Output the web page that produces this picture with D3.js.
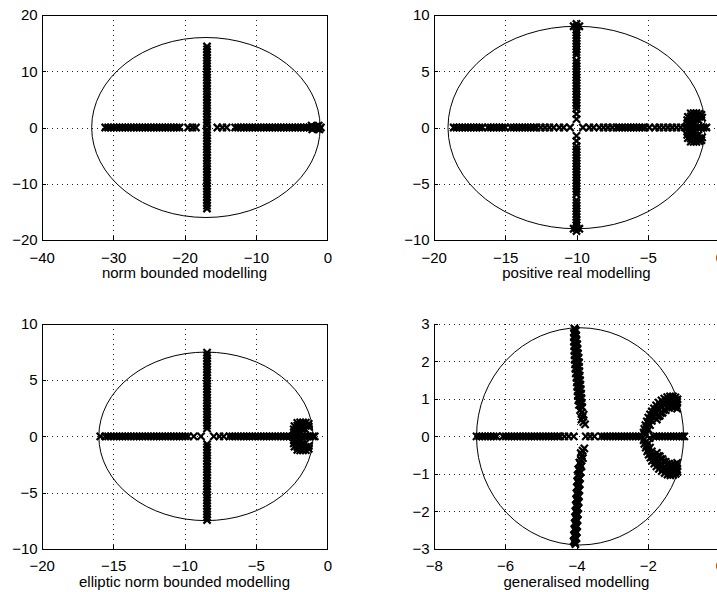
<!DOCTYPE html>
<html>
<head>
<meta charset="utf-8">
<script src="https://cdn.jsdelivr.net/npm/d3@7"></script>
<style>
  html, body { margin: 0; padding: 0; background: #fff; overflow: hidden; }
  svg { display: block; font-family: "Liberation Sans", Arial, Helvetica, sans-serif; }
</style>
</head>
<body>
<div id="chart"></div>
<script>
// ---- data ----

// norm bounded modelling
var nbXTicks = [-40, -30, -20, -10, 0];
var nbYTicks = [-20, -10, 0, 10, 20];
var nbCircle = [-17, 16];               // centre on real axis, radius
var nbRe = [-31.1, -30.7, -30.3, -29.9, -29.5, -29.1, -28.7, -28.3, -27.9, -27.5, -27.1, -26.7, -26.3,
  -25.9, -25.5, -25.1, -24.7, -24.3, -23.9, -23.5, -23.1, -22.7, -22.3, -21.9, -21.5, -21.1, -20.7,
  -19.5, -18.9, -18.4, -15.4, -14.7, -14.1, -12.9, -12.5, -12.1, -11.7, -11.3, -10.9, -10.5, -10.1,
  -9.7, -9.3, -8.9, -8.5, -8.1, -7.7, -7.3, -6.9, -6.5, -6.1, -5.7, -5.3, -4.9, -4.5, -4.1, -3.7,
  -3.3, -2.9, -2.5];
var nbImRe = -16.85;
var nbIm = [14.4, 13.9, 13.4, 12.9, 12.4, 11.9, 11.4, 10.9, 10.4, 9.9, 9.4, 8.9, 8.4, 7.9, 7.4, 6.9,
  6.4, 5.9, 5.4, 4.9, 4.4, 3.9, 3.4, 2.9, 2.4, 1.9, 1.4, 0.9, 0.4, -0.4, -0.9, -1.4, -1.9, -2.4,
  -2.9, -3.4, -3.9, -4.4, -4.9, -5.4, -5.9, -6.4, -6.9, -7.4, -7.9, -8.4, -8.9, -9.4, -9.9, -10.4,
  -10.9, -11.4, -11.9, -12.4, -12.9, -13.4, -13.9, -14.4];
var nbCluster = [[-2.2, 0.35], [-2.1, -0.35], [-1.8, 0], [-1.5, 0.2], [-1.4, -0.2], [-1.2, 0.35],
  [-1.1, -0.35], [-0.9, 0]];

// positive real modelling
var prXTicks = [-20, -15, -10, -5, 0];
var prYTicks = [-10, -5, 0, 5, 10];
var prCircle = [-10, 9];
var prRe = [-18.6, -18.4, -18.2, -18.0, -17.8, -17.6, -17.4, -17.2, -17.0, -16.8, -16.6, -16.2, -16.0,
  -15.8, -15.6, -15.4, -15.2, -15.0, -14.6, -14.4, -14.2, -14.0, -13.8, -13.6, -13.4, -13.2, -13.0,
  -12.8, -12.5, -12.2, -11.9, -11.6, -11.2, -10.9, -10.45, -9.55, -9.1, -8.8, -8.4, -8.1, -7.8, -7.5,
  -7.2, -7.0, -6.8, -6.6, -6.4, -6.2, -6.0, -5.8, -5.6, -5.4, -5.2, -4.9, -4.5, -4.2, -3.9, -3.6,
  -3.3, -3.0, -2.7, -2.4];
var prImRe = -10;
var prIm = [9.2, 8.95, 8.7, 8.45, 8.2, 7.95, 7.7, 7.45, 7.2, 6.95, 6.7, 6.45, 5.95, 5.7, 5.45, 5.2,
  4.95, 4.7, 4.45, 4.2, 3.95, 3.7, 3.45, 3.2, 2.95, 2.7, 2.45, 2.2, 1.95, 1.65, 1.2, 0.75, -0.75,
  -1.2, -1.65, -1.95, -2.2, -2.45, -2.7, -2.95, -3.2, -3.45, -3.7, -3.95, -4.2, -4.45, -4.7, -4.95,
  -5.2, -5.45, -5.7, -5.95, -6.45, -6.7, -6.95, -7.2, -7.45, -7.7, -7.95, -8.2, -8.45, -8.7, -8.95, -9.2];
var prCluster = [[-10.2, 9.0], [-9.8, 9.0], [-10.2, -9.0], [-9.8, -9.0],
  [-2.0, 1.25], [-1.8, 1.28], [-1.6, 1.28], [-1.4, 1.22], [-1.25, 1.12],
  [-2.2, 0.95], [-2.0, 0.98], [-1.8, 1.0], [-1.6, 1.0], [-1.4, 0.95], [-1.2, 0.88],
  [-2.25, 0.65], [-2.05, 0.68], [-1.85, 0.7], [-1.65, 0.7], [-1.45, 0.66],
  [-2.25, 0.35], [-2.0, 0.38], [-1.75, 0.4],
  [-2.3, 0], [-2.1, 0], [-1.9, 0], [-1.7, 0], [-1.5, 0], [-1.3, 0], [-1.1, 0], [-0.9, 0],
  [-2.25, -0.35], [-2.0, -0.38], [-1.75, -0.4],
  [-2.25, -0.65], [-2.05, -0.68], [-1.85, -0.7], [-1.65, -0.7], [-1.45, -0.66],
  [-2.2, -0.95], [-2.0, -0.98], [-1.8, -1.0], [-1.6, -1.0], [-1.4, -0.95], [-1.2, -0.88],
  [-2.0, -1.25], [-1.8, -1.28], [-1.6, -1.28], [-1.4, -1.22], [-1.25, -1.12]];

// elliptic norm bounded modelling
var enXTicks = [-20, -15, -10, -5, 0];
var enYTicks = [-10, -5, 0, 5, 10];
var enCircle = [-8.5, 7.5];
var enRe = [-15.9, -15.55, -15.35, -15.15, -14.95, -14.75, -14.55, -14.35, -14.15, -13.95, -13.75,
  -13.55, -13.35, -13.15, -12.95, -12.75, -12.55, -12.35, -12.15, -11.95, -11.75, -11.55, -11.35,
  -11.15, -10.95, -10.75, -10.55, -10.35, -10.15, -9.95, -9.75, -9.35, -8.85, -7.95, -7.55, -7.25,
  -6.85, -6.65, -6.45, -6.25, -6.05, -5.85, -5.65, -5.45, -5.25, -5.05, -4.85, -4.65, -4.45, -4.25,
  -4.05, -3.85, -3.65, -3.45, -3.25, -3.05, -2.85, -2.65, -2.45];
var enImRe = -8.42;
var enIm = [7.45, 7.2, 6.95, 6.7, 6.45, 6.2, 5.95, 5.7, 5.45, 5.2, 4.95, 4.7, 4.45, 4.2, 3.95, 3.7,
  3.45, 3.2, 2.95, 2.7, 2.45, 2.2, 1.95, 1.7, 1.45, 1.2, 0.95, 0.7, -0.7, -0.95, -1.2, -1.45, -1.7,
  -1.95, -2.2, -2.45, -2.7, -2.95, -3.2, -3.45, -3.7, -3.95, -4.2, -4.45, -4.7, -4.95, -5.2, -5.45,
  -5.7, -5.95, -6.2, -6.45, -6.7, -6.95, -7.2, -7.45];
var enCluster = [[-2.1, 1.2], [-1.9, 1.25], [-1.7, 1.25], [-1.5, 1.22], [-1.3, 1.12],
  [-2.3, 0.92], [-2.1, 0.95], [-1.9, 0.97], [-1.7, 0.97], [-1.5, 0.93], [-1.3, 0.86],
  [-2.35, 0.62], [-2.15, 0.65], [-1.95, 0.67], [-1.75, 0.67], [-1.55, 0.63],
  [-2.35, 0.33], [-2.1, 0.36], [-1.85, 0.38],
  [-2.2, 0], [-2.0, 0], [-1.8, 0], [-1.6, 0], [-1.4, 0], [-1.2, 0], [-1.0, 0], [-0.88, 0],
  [-2.35, -0.33], [-2.1, -0.36], [-1.85, -0.38],
  [-2.35, -0.62], [-2.15, -0.65], [-1.95, -0.67], [-1.75, -0.67], [-1.55, -0.63],
  [-2.3, -0.92], [-2.1, -0.95], [-1.9, -0.97], [-1.7, -0.97], [-1.5, -0.93], [-1.3, -0.86],
  [-2.1, -1.2], [-1.9, -1.25], [-1.7, -1.25], [-1.5, -1.22], [-1.3, -1.12]];

// generalised modelling
var genXTicks = [-8, -6, -4, -2, 0];
var genYTicks = [-3, -2, -1, 0, 1, 2, 3];
var genCircle = [-3.9, 2.9];
var genRe = [-6.80, -6.72, -6.64, -6.56, -6.48, -6.40, -6.32, -6.24, -6.06, -5.98, -5.90, -5.82,
  -5.74, -5.66, -5.58, -5.50, -5.42, -5.34, -5.26, -5.18, -5.10, -5.02, -4.94, -4.86, -4.78, -4.70,
  -4.62, -4.54, -4.46, -4.34, -4.22, -4.08, -3.74, -3.62, -3.50, -3.30, -3.22, -3.14, -3.06, -2.98,
  -2.90, -2.82, -2.74, -2.66, -2.58, -2.50, -2.42, -2.34, -2.26, -2.18, -1.84, -1.76, -1.68, -1.60,
  -1.52, -1.44, -1.36, -1.28, -1.20, -1.12, -1.04, -0.98];
var genBranch = [[-4.06, 2.88], [-4.02, 2.82], [-4.07, 2.76], [-4.01, 2.70], [-4.07, 2.64],
  [-4.00, 2.58], [-4.07, 2.52], [-3.98, 2.46], [-4.06, 2.40], [-3.97, 2.34], [-4.06, 2.28],
  [-3.96, 2.22], [-4.05, 2.16], [-3.94, 2.10], [-4.05, 2.04], [-3.93, 1.98], [-4.04, 1.92],
  [-3.93, 1.86], [-4.03, 1.80], [-3.92, 1.74], [-4.02, 1.68], [-3.91, 1.62], [-4.00, 1.56],
  [-3.90, 1.50], [-3.99, 1.44], [-3.89, 1.38], [-3.98, 1.32], [-3.88, 1.26], [-3.97, 1.20],
  [-3.87, 1.14], [-3.96, 1.08], [-3.86, 1.02], [-3.95, 0.96], [-3.85, 0.90], [-3.93, 0.84],
  [-3.84, 0.78], [-3.90, 0.70], [-3.80, 0.58], [-3.86, 0.45], [-3.76, 0.32],
  [-3.78, -0.32], [-3.88, -0.45], [-3.82, -0.58], [-3.92, -0.70], [-3.86, -0.80], [-3.95, -0.88],
  [-3.88, -0.96], [-3.97, -1.04], [-3.90, -1.12], [-3.98, -1.20], [-3.91, -1.28], [-3.99, -1.36],
  [-3.92, -1.44], [-4.00, -1.52], [-3.93, -1.60], [-4.01, -1.68], [-3.94, -1.76], [-4.02, -1.84],
  [-3.95, -1.92], [-4.03, -2.00], [-3.96, -2.08], [-4.04, -2.16], [-3.97, -2.24], [-4.05, -2.32],
  [-3.98, -2.40], [-4.06, -2.48], [-3.99, -2.56], [-4.07, -2.64], [-4.00, -2.72], [-4.08, -2.80],
  [-4.03, -2.88]];
var genBranchMid = [[-4.04, 2.85], [-4.04, 2.73], [-4.03, 2.61], [-4.02, 2.49], [-4.01, 2.37],
  [-4.01, 2.25], [-3.99, 2.13], [-3.99, 2.01], [-3.98, 1.89], [-3.97, 1.77], [-3.96, 1.65],
  [-3.95, 1.53], [-3.94, 1.41], [-3.93, 1.29], [-3.92, 1.17], [-3.91, 1.05], [-3.90, 0.93],
  [-3.88, 0.81], [-3.85, 0.64], [-3.83, 0.52], [-3.81, 0.38],
  [-3.83, -0.38], [-3.85, -0.52], [-3.87, -0.64], [-3.89, -0.75], [-3.92, -0.92], [-3.93, -1.00],
  [-3.94, -1.16], [-3.95, -1.24], [-3.95, -1.32], [-3.96, -1.48], [-3.97, -1.56], [-3.97, -1.64],
  [-3.98, -1.72], [-3.98, -1.80], [-3.99, -1.88], [-3.99, -1.96], [-4.00, -2.04], [-4.00, -2.12],
  [-4.01, -2.20], [-4.01, -2.28], [-4.02, -2.36], [-4.02, -2.44], [-4.03, -2.52], [-4.03, -2.60],
  [-4.04, -2.68], [-4.04, -2.76], [-4.05, -2.84]];
var genFans = [[-2.05, 0.05], [-1.95, -0.05],
  [-2.12, 0.10], [-2.10, 0.20], [-2.07, 0.30], [-2.03, 0.40], [-1.99, 0.50], [-1.94, 0.59],
  [-1.89, 0.67], [-1.83, 0.75], [-1.77, 0.83], [-1.70, 0.90], [-1.62, 0.96], [-1.54, 1.01],
  [-1.46, 1.05], [-1.38, 1.07], [-1.30, 1.07], [-1.23, 1.04], [-1.17, 0.99],
  [-2.04, 0.25], [-1.99, 0.37], [-1.94, 0.47], [-1.88, 0.57], [-1.81, 0.66], [-1.74, 0.74],
  [-1.66, 0.82], [-1.58, 0.89], [-1.49, 0.95], [-1.40, 0.99], [-1.31, 1.00], [-1.23, 0.97],
  [-1.18, 0.92],
  [-1.98, 0.18], [-1.94, 0.30], [-1.89, 0.41], [-1.83, 0.52], [-1.76, 0.62], [-1.69, 0.70],
  [-1.61, 0.78], [-1.53, 0.85], [-1.44, 0.90], [-1.35, 0.93], [-1.27, 0.93], [-1.20, 0.89],
  [-1.72, 0.53], [-1.64, 0.62], [-1.56, 0.70], [-1.47, 0.77], [-1.38, 0.82], [-1.29, 0.84],
  [-1.21, 0.82],
  [-1.75, 0.45], [-1.67, 0.55], [-1.59, 0.63], [-1.50, 0.70], [-1.41, 0.76], [-1.32, 0.79],
  [-1.24, 0.78], [-1.18, 0.74],
  [-2.12, -0.10], [-2.10, -0.20], [-2.06, -0.30], [-2.02, -0.40], [-1.98, -0.49], [-1.93, -0.57],
  [-1.88, -0.65], [-1.82, -0.73], [-1.76, -0.80], [-1.69, -0.87], [-1.61, -0.93], [-1.53, -0.98],
  [-1.45, -1.02], [-1.37, -1.04], [-1.29, -1.03], [-1.22, -1.00], [-1.17, -0.95],
  [-2.04, -0.25], [-1.99, -0.36], [-1.94, -0.46], [-1.88, -0.55], [-1.81, -0.64], [-1.74, -0.71],
  [-1.66, -0.79], [-1.58, -0.86], [-1.49, -0.91], [-1.40, -0.95], [-1.31, -0.96], [-1.23, -0.94],
  [-1.18, -0.89],
  [-1.98, -0.18], [-1.94, -0.30], [-1.89, -0.40], [-1.83, -0.50], [-1.76, -0.59], [-1.69, -0.67],
  [-1.61, -0.75], [-1.53, -0.82], [-1.44, -0.87], [-1.35, -0.90], [-1.27, -0.90], [-1.20, -0.86],
  [-1.72, -0.52], [-1.64, -0.60], [-1.56, -0.67], [-1.47, -0.74], [-1.38, -0.78], [-1.29, -0.80],
  [-1.21, -0.79],
  [-1.75, -0.44], [-1.67, -0.53], [-1.59, -0.61], [-1.50, -0.68], [-1.41, -0.73], [-1.32, -0.76],
  [-1.24, -0.75], [-1.18, -0.71]];

// ---- layout ----
var W = 717, H = 592;
var colLeft = [41.7, 433.7];
var rowTop = [15, 324];
var plotW = 285.6, rowH = [225, 224.7];

function onAxis(vals) { return vals.map(function (v) { return [v, 0]; }); }
function onBranch(re, vals) { return vals.map(function (v) { return [re, v]; }); }

var panels = [
  { label: 'norm bounded modelling', col: 0, row: 0, xTicks: nbXTicks, yTicks: nbYTicks,
    circle: nbCircle, pts: onAxis(nbRe).concat(onBranch(nbImRe, nbIm), nbCluster), topBorder: true },
  { label: 'positive real modelling', col: 1, row: 0, xTicks: prXTicks, yTicks: prYTicks,
    circle: prCircle, pts: onAxis(prRe).concat(onBranch(prImRe, prIm), prCluster), topBorder: true },
  { label: 'elliptic norm bounded modelling', col: 0, row: 1, xTicks: enXTicks, yTicks: enYTicks,
    circle: enCircle, pts: onAxis(enRe).concat(onBranch(enImRe, enIm), enCluster), topBorder: true },
  { label: 'generalised modelling', col: 1, row: 1, xTicks: genXTicks, yTicks: genYTicks,
    circle: genCircle, pts: onAxis(genRe).concat(genBranch, genBranchMid, genFans), topBorder: false }
];

var svg = d3.select('#chart').append('svg')
  .attr('width', W).attr('height', H)
  .attr('viewBox', '0 0 ' + W + ' ' + H);

var FONT = 15;
var cross = 'M-3.6,-3.6L3.6,3.6M-3.6,3.6L3.6,-3.6';

panels.forEach(function (p) {
  var left = colLeft[p.col], top = rowTop[p.row];
  var h = rowH[p.row];
  var x = d3.scaleLinear().domain(d3.extent(p.xTicks)).range([0, plotW]);
  var y = d3.scaleLinear().domain(d3.extent(p.yTicks)).range([h, 0]);

  var g = svg.append('g').attr('transform', 'translate(' + left + ',' + top + ')');

  // dotted grid
  var grid = g.append('g')
    .attr('stroke', '#222').attr('stroke-width', 1)
    .attr('stroke-dasharray', '1,4').attr('shape-rendering', 'crispEdges');
  p.xTicks.slice(1, -1).forEach(function (t) {
    grid.append('line').attr('x1', Math.round(x(t)) + 0.5).attr('x2', Math.round(x(t)) + 0.5)
      .attr('y1', 0).attr('y2', h);
  });
  var yGrid = p.topBorder ? p.yTicks.slice(1, -1) : p.yTicks.slice(1);
  yGrid.forEach(function (t) {
    grid.append('line').attr('y1', Math.round(y(t)) + 0.5).attr('y2', Math.round(y(t)) + 0.5)
      .attr('x1', 0).attr('x2', plotW);
  });

  // bounding circle
  var c = p.circle;
  g.append('ellipse')
    .attr('cx', x(c[0])).attr('cy', y(0))
    .attr('rx', x(c[0] + c[1]) - x(c[0]))
    .attr('ry', y(0) - y(c[1]))
    .attr('fill', 'none').attr('stroke', '#000').attr('stroke-width', 1);

  // pole locations
  g.append('g').selectAll('path').data(p.pts).join('path')
    .attr('d', cross)
    .attr('transform', function (d) { return 'translate(' + x(d[0]) + ',' + y(d[1]) + ')'; })
    .attr('fill', 'none').attr('stroke', '#000').attr('stroke-width', 2.2);

  // axes
  var xAxis = d3.axisBottom(x).tickValues(p.xTicks).tickFormat(d3.format('d'))
    .tickSizeInner(-4).tickSizeOuter(0).tickPadding(12);
  var yAxis = d3.axisLeft(y).tickValues(p.yTicks).tickFormat(d3.format('d'))
    .tickSizeInner(-4).tickSizeOuter(0).tickPadding(4);

  var gx = g.append('g').attr('transform', 'translate(0,' + h + ')').call(xAxis);
  var gy = g.append('g').call(yAxis);
  [gx, gy].forEach(function (a) {
    a.attr('font-family', null).attr('font-size', FONT);
    a.selectAll('path, line').attr('stroke', '#000').attr('shape-rendering', 'crispEdges');
    a.selectAll('text').attr('fill', '#000');
  });

  // remaining border lines
  g.append('line').attr('x1', plotW).attr('x2', plotW).attr('y1', 0).attr('y2', h)
    .attr('stroke', '#000').attr('shape-rendering', 'crispEdges');
  if (p.topBorder) {
    g.append('line').attr('x1', 0).attr('x2', plotW).attr('y1', 0).attr('y2', 0)
      .attr('stroke', '#000').attr('shape-rendering', 'crispEdges');
  }

  // x label
  g.append('text')
    .attr('x', plotW / 2).attr('y', h + 38)
    .attr('text-anchor', 'middle')
    .attr('font-size', FONT)
    .attr('fill', '#000')
    .text(p.label);
});
</script>
</body>
</html>
